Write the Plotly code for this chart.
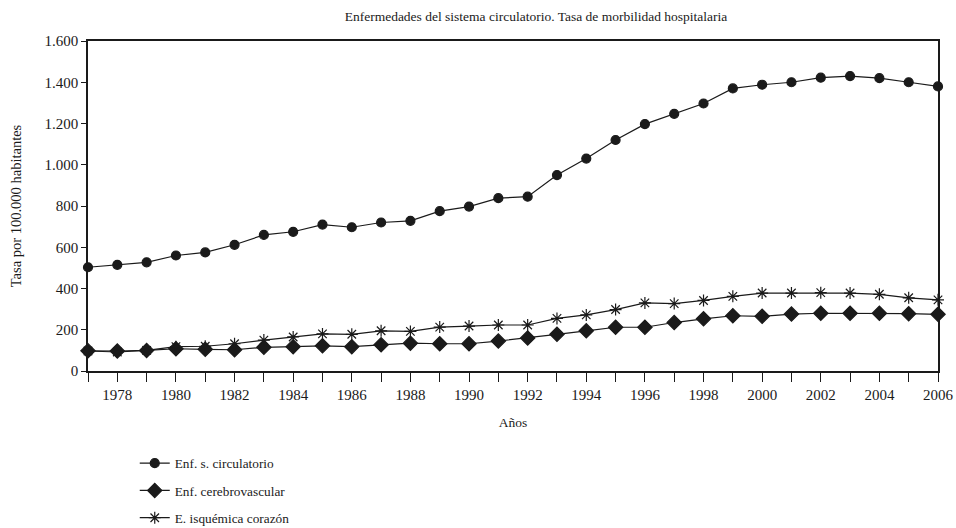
import plotly.graph_objects as go

# ── Data ─────────────────────────────────────────────
years = list(range(1977, 2007))

circulatorio = [503, 515, 527, 560, 575, 612, 660, 675, 710, 697,
                720, 728, 775, 797, 838, 845, 950, 1030, 1120, 1197,
                1247, 1297, 1370, 1388, 1400, 1422, 1430, 1420, 1400, 1380]

cerebrovascular = [98, 97, 100, 108, 105, 103, 115, 118, 122, 118,
                   127, 135, 132, 132, 145, 160, 178, 195, 212, 212,
                   235, 253, 268, 265, 276, 280, 280, 280, 278, 275]

isquemica = [97, 92, 100, 118, 120, 132, 150, 165, 180, 178,
             195, 192, 213, 218, 223, 223, 255, 272, 298, 330,
             327, 342, 362, 378, 378, 380, 378, 372, 355, 345]

series = [
    ("Enf. s. circulatorio", circulatorio, "circle", 9),
    ("Enf. cerebrovascular", cerebrovascular, "diamond", 11),
    ("E. isquémica corazón", isquemica, "asterisk-open", 10),
]

INK = "#1a1a1a"
FONT = "Liberation Serif"

fig = go.Figure()

for i, (name, vals, sym, size) in enumerate(series):
    fig.add_trace(go.Scatter(
        x=years, y=vals,
        mode="lines+markers",
        name=name,
        legendgroup=str(i),
        line=dict(color=INK, width=1.2),
        marker=dict(symbol=sym, size=size, color=INK,
                    line=dict(color=INK, width=1.2)),
        cliponaxis=False,
    ))

fig.update_layout(
    width=956, height=528,
    paper_bgcolor="white",
    plot_bgcolor="white",
    separators=",.",
    font=dict(family=FONT, size=13, color=INK),
    title=dict(text="Enfermedades del sistema circulatorio. Tasa de morbilidad hospitalaria",
               x=(536 - 88) / 850, xref="paper", xanchor="center",
               y=1 - 16 / 528, yanchor="middle",
               font=dict(size=13.5)),
    margin=dict(l=88, r=18, t=41, b=157),
    showlegend=True,
    legend=dict(
        xref="paper", x=0.055, xanchor="left",
        yref="container", y=1 - 448 / 528, yanchor="top",
        traceorder="grouped",
        tracegroupgap=7,
        font=dict(size=13.3),
        itemwidth=30,
    ),
    xaxis=dict(
        range=[1977, 2006],
        tick0=1978, dtick=2,
        ticks="outside", ticklen=9, tickcolor=INK,
        minor=dict(dtick=1, ticks="outside", ticklen=9, tickcolor=INK),
        showline=True, linecolor=INK, linewidth=1.5, mirror=True,
        showgrid=False, zeroline=False,
        automargin=False,
        title=dict(text="Años", font=dict(size=13.5), standoff=16),
        tickfont=dict(size=15),
    ),
    yaxis=dict(
        range=[0, 1600],
        dtick=200,
        tickformat=",d",
        ticks="outside", ticklen=5, tickcolor=INK,
        showline=True, linecolor=INK, linewidth=1.5, mirror=True,
        showgrid=False, zeroline=False,
        automargin=False,
        title=dict(text="Tasa por 100.000 habitantes", font=dict(size=14.5), standoff=19),
        tickfont=dict(size=15),
    ),
)

# drop the default page margin so the 956x528 figure fills the window exactly
fig.write_html(
    "out.html",
    config={"displayModeBar": False},
    post_script="document.body.style.margin='0';document.body.style.overflow='hidden';",
)
